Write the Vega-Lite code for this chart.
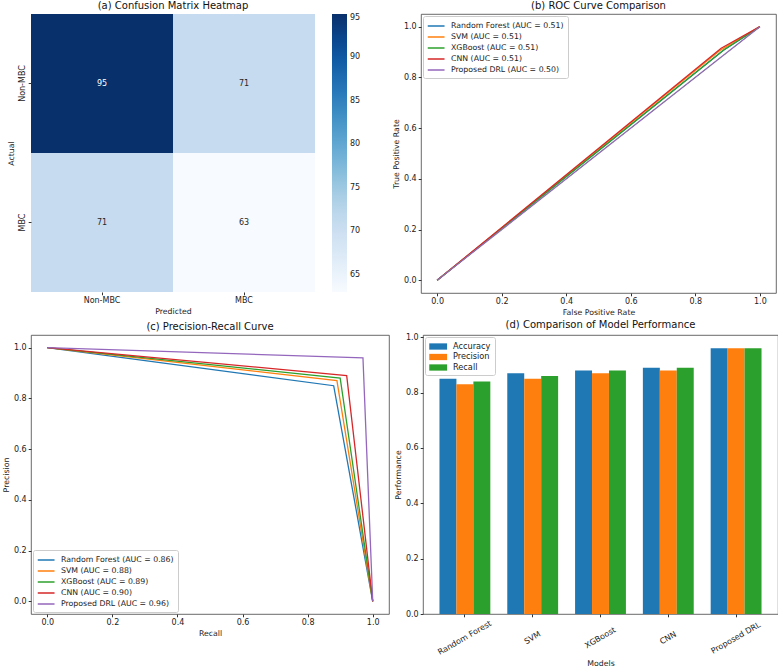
{
 "$schema": "https://vega.github.io/schema/vega-lite/v6.json",
 "padding": {"left": 2, "top": 0, "right": 0, "bottom": 0},
 "background": "white",
 "config": {
  "font": "DejaVu Sans",
  "view": {"stroke": "#444", "strokeWidth": 0.8},
  "title": {"fontSize": 10, "fontWeight": "normal", "font": "DejaVu Sans", "offset": 3, "frame": "group", "color": "#111"},
  "axis": {"labelFont": "DejaVu Sans", "labelFontSize": 8, "titleFont": "DejaVu Sans", "titleFontSize": 7.8, "titleFontWeight": "normal", "grid": false, "tickSize": 2.8, "tickColor": "#333", "labelColor": "#222", "titleColor": "#222", "domain": false, "labelPadding": 2, "titlePadding": 3},
  "legend": {"labelFont": "DejaVu Sans", "labelFontSize": 7.8, "labelColor": "#222", "gradientVerticalMaxLength": 400}
 },
 "datasets": {
  "heat": [
   {"actual": "Non-MBC", "predicted": "Non-MBC", "count": 95},
   {"actual": "Non-MBC", "predicted": "MBC", "count": 71},
   {"actual": "MBC", "predicted": "Non-MBC", "count": 71},
   {"actual": "MBC", "predicted": "MBC", "count": 63}
  ],
  "roc": [
   {"label": "Random Forest (AUC = 0.51)", "step": 0, "fpr": 0, "tpr": 0},
   {"label": "Random Forest (AUC = 0.51)", "step": 1, "fpr": 0.885, "tpr": 0.905},
   {"label": "Random Forest (AUC = 0.51)", "step": 2, "fpr": 1, "tpr": 1},
   {"label": "SVM (AUC = 0.51)", "step": 0, "fpr": 0, "tpr": 0},
   {"label": "SVM (AUC = 0.51)", "step": 1, "fpr": 0.875, "tpr": 0.905},
   {"label": "SVM (AUC = 0.51)", "step": 2, "fpr": 1, "tpr": 1},
   {"label": "XGBoost (AUC = 0.51)", "step": 0, "fpr": 0, "tpr": 0},
   {"label": "XGBoost (AUC = 0.51)", "step": 1, "fpr": 0.89, "tpr": 0.91},
   {"label": "XGBoost (AUC = 0.51)", "step": 2, "fpr": 1, "tpr": 1},
   {"label": "CNN (AUC = 0.51)", "step": 0, "fpr": 0, "tpr": 0},
   {"label": "CNN (AUC = 0.51)", "step": 1, "fpr": 0.88, "tpr": 0.915},
   {"label": "CNN (AUC = 0.51)", "step": 2, "fpr": 1, "tpr": 1},
   {"label": "Proposed DRL (AUC = 0.50)", "step": 0, "fpr": 0, "tpr": 0},
   {"label": "Proposed DRL (AUC = 0.50)", "step": 1, "fpr": 0.9, "tpr": 0.9},
   {"label": "Proposed DRL (AUC = 0.50)", "step": 2, "fpr": 1, "tpr": 1}
  ],
  "diag": [
   {"fpr": 0, "tpr": 0},
   {"fpr": 1, "tpr": 1}
  ],
  "pr": [
   {"label": "Random Forest (AUC = 0.86)", "step": 0, "recall": 0, "precision": 1},
   {"label": "Random Forest (AUC = 0.86)", "step": 1, "recall": 0.88, "precision": 0.85},
   {"label": "Random Forest (AUC = 0.86)", "step": 2, "recall": 1, "precision": 0},
   {"label": "SVM (AUC = 0.88)", "step": 0, "recall": 0, "precision": 1},
   {"label": "SVM (AUC = 0.88)", "step": 1, "recall": 0.89, "precision": 0.87},
   {"label": "SVM (AUC = 0.88)", "step": 2, "recall": 1, "precision": 0},
   {"label": "XGBoost (AUC = 0.89)", "step": 0, "recall": 0, "precision": 1},
   {"label": "XGBoost (AUC = 0.89)", "step": 1, "recall": 0.90, "precision": 0.88},
   {"label": "XGBoost (AUC = 0.89)", "step": 2, "recall": 1, "precision": 0},
   {"label": "CNN (AUC = 0.90)", "step": 0, "recall": 0, "precision": 1},
   {"label": "CNN (AUC = 0.90)", "step": 1, "recall": 0.92, "precision": 0.89},
   {"label": "CNN (AUC = 0.90)", "step": 2, "recall": 1, "precision": 0},
   {"label": "Proposed DRL (AUC = 0.96)", "step": 0, "recall": 0, "precision": 1},
   {"label": "Proposed DRL (AUC = 0.96)", "step": 1, "recall": 0.97, "precision": 0.96},
   {"label": "Proposed DRL (AUC = 0.96)", "step": 2, "recall": 1, "precision": 0}
  ],
  "bars": [
   {"model": "Random Forest", "metric": "Accuracy", "value": 0.85},
   {"model": "Random Forest", "metric": "Precision", "value": 0.83},
   {"model": "Random Forest", "metric": "Recall", "value": 0.84},
   {"model": "SVM", "metric": "Accuracy", "value": 0.87},
   {"model": "SVM", "metric": "Precision", "value": 0.85},
   {"model": "SVM", "metric": "Recall", "value": 0.86},
   {"model": "XGBoost", "metric": "Accuracy", "value": 0.88},
   {"model": "XGBoost", "metric": "Precision", "value": 0.87},
   {"model": "XGBoost", "metric": "Recall", "value": 0.88},
   {"model": "CNN", "metric": "Accuracy", "value": 0.89},
   {"model": "CNN", "metric": "Precision", "value": 0.88},
   {"model": "CNN", "metric": "Recall", "value": 0.89},
   {"model": "Proposed DRL", "metric": "Accuracy", "value": 0.96},
   {"model": "Proposed DRL", "metric": "Precision", "value": 0.96},
   {"model": "Proposed DRL", "metric": "Recall", "value": 0.96}
  ]
 },
 "resolve": {"scale": {"color": "independent", "x": "independent", "y": "independent"}, "legend": {"color": "independent"}},
 "spacing": 2,
 "vconcat": [
  {
   "spacing": 31,
   "resolve": {"scale": {"color": "independent", "x": "independent", "y": "independent"}, "legend": {"color": "independent"}},
   "hconcat": [
    {
     "width": 284, "height": 278,
     "title": {"text": "(a) Confusion Matrix Heatmap"},
     "view": {"stroke": null},
     "data": {"name": "heat"},
     "layer": [
      {
       "mark": {"type": "rect"},
       "encoding": {
        "x": {"field": "predicted", "type": "nominal", "sort": ["Non-MBC", "MBC"], "scale": {"paddingInner": 0, "paddingOuter": 0}, "axis": {"title": "Predicted", "labelAngle": 0}},
        "y": {"field": "actual", "type": "nominal", "sort": ["Non-MBC", "MBC"], "scale": {"paddingInner": 0, "paddingOuter": 0}, "axis": {"title": "Actual", "labelAngle": -90}},
        "color": {"field": "count", "type": "quantitative",
         "scale": {"domain": [63, 67, 71, 75, 79, 83, 87, 91, 95], "range": ["#f7fbff", "#deebf7", "#c6dbef", "#9ecae1", "#6baed6", "#4292c6", "#2171b5", "#08519c", "#08306b"]},
         "legend": {"title": null, "direction": "vertical", "orient": "right", "gradientLength": 278, "gradientThickness": 15, "offset": 17, "values": [65, 70, 75, 80, 85, 90, 95], "labelOverlap": false, "labelFontSize": 8, "gradientStrokeWidth": 0, "labelOffset": 3}}
       }
      },
      {
       "mark": {"type": "text", "fontSize": 8},
       "encoding": {
        "x": {"field": "predicted", "type": "nominal", "sort": ["Non-MBC", "MBC"]},
        "y": {"field": "actual", "type": "nominal", "sort": ["Non-MBC", "MBC"]},
        "text": {"field": "count", "type": "quantitative"},
        "color": {"condition": {"test": "datum.count > 80", "value": "white"}, "value": "#262626"}
       }
      }
     ]
    },
    {
     "width": 355, "height": 279,
     "title": {"text": "(b) ROC Curve Comparison"},
     "layer": [
      {
       "data": {"name": "roc"},
       "mark": {"type": "line", "strokeWidth": 1.3},
       "encoding": {
        "x": {"field": "fpr", "type": "quantitative", "scale": {"domain": [-0.05, 1.05], "nice": false, "zero": false}, "axis": {"title": "False Positive Rate", "values": [0, 0.2, 0.4, 0.6, 0.8, 1], "format": ".1f"}},
        "y": {"field": "tpr", "type": "quantitative", "scale": {"domain": [-0.05, 1.05], "nice": false, "zero": false}, "axis": {"title": "True Positive Rate", "values": [0, 0.2, 0.4, 0.6, 0.8, 1], "format": ".1f"}},
        "color": {"field": "label", "type": "nominal",
         "scale": {"domain": ["Random Forest (AUC = 0.51)", "SVM (AUC = 0.51)", "XGBoost (AUC = 0.51)", "CNN (AUC = 0.51)", "Proposed DRL (AUC = 0.50)"], "range": ["#1f77b4", "#ff7f0e", "#2ca02c", "#d62728", "#9467bd"]},
         "legend": {"title": null, "orient": "top-left", "offset": 2, "symbolType": "M-1,0L2.2,0", "symbolStrokeWidth": 1.5, "symbolSize": 110, "strokeColor": "#ccc", "fillColor": "white", "padding": 4, "cornerRadius": 2, "labelFontSize": 7.8, "rowPadding": 1, "labelOffset": 12}},
        "order": {"field": "step", "type": "quantitative"}
       }
      },
      {
       "data": {"name": "diag"},
       "mark": {"type": "line", "strokeDash": [4, 2.5], "color": "#808090", "strokeWidth": 1},
       "encoding": {
        "x": {"field": "fpr", "type": "quantitative"},
        "y": {"field": "tpr", "type": "quantitative"}
       }
      }
     ]
    }
   ]
  },
  {
   "spacing": 4,
   "resolve": {"scale": {"color": "independent", "x": "independent", "y": "independent"}, "legend": {"color": "independent"}},
   "hconcat": [
    {
     "width": 358, "height": 279,
     "title": {"text": "(c) Precision-Recall Curve"},
     "data": {"name": "pr"},
     "mark": {"type": "line", "strokeWidth": 1.3},
     "encoding": {
      "x": {"field": "recall", "type": "quantitative", "scale": {"domain": [-0.05, 1.05], "nice": false, "zero": false}, "axis": {"title": "Recall", "values": [0, 0.2, 0.4, 0.6, 0.8, 1], "format": ".1f"}},
      "y": {"field": "precision", "type": "quantitative", "scale": {"domain": [-0.05, 1.05], "nice": false, "zero": false}, "axis": {"title": "Precision", "values": [0, 0.2, 0.4, 0.6, 0.8, 1], "format": ".1f"}},
      "color": {"field": "label", "type": "nominal",
       "scale": {"domain": ["Random Forest (AUC = 0.86)", "SVM (AUC = 0.88)", "XGBoost (AUC = 0.89)", "CNN (AUC = 0.90)", "Proposed DRL (AUC = 0.96)"], "range": ["#1f77b4", "#ff7f0e", "#2ca02c", "#d62728", "#9467bd"]},
       "legend": {"title": null, "orient": "bottom-left", "offset": 2, "symbolType": "M-1,0L2.2,0", "symbolStrokeWidth": 1.5, "symbolSize": 110, "strokeColor": "#ccc", "fillColor": "white", "padding": 4, "cornerRadius": 2, "labelFontSize": 7.8, "rowPadding": 1, "labelOffset": 12}},
      "order": {"field": "step", "type": "quantitative"}
     }
    },
    {
     "width": 355, "height": 279,
     "title": {"text": "(d) Comparison of Model Performance"},
     "data": {"name": "bars"},
     "mark": {"type": "bar"},
     "encoding": {
      "x": {"field": "model", "type": "nominal", "sort": ["Random Forest", "SVM", "XGBoost", "CNN", "Proposed DRL"], "scale": {"paddingInner": 0.25, "paddingOuter": 0.243}, "axis": {"title": "Models", "labelAngle": -30, "labelAlign": "center", "labelBaseline": "middle", "labelPadding": 21, "labelOverlap": false, "labelBound": false, "titlePadding": 3}},
      "xOffset": {"field": "metric", "type": "nominal", "sort": ["Accuracy", "Precision", "Recall"], "scale": {"paddingInner": 0, "paddingOuter": 0}},
      "y": {"field": "value", "type": "quantitative", "scale": {"domain": [0, 1.008], "nice": false}, "axis": {"title": "Performance", "values": [0, 0.2, 0.4, 0.6, 0.8, 1], "format": ".1f"}},
      "color": {"field": "metric", "type": "nominal", "sort": ["Accuracy", "Precision", "Recall"],
       "scale": {"domain": ["Accuracy", "Precision", "Recall"], "range": ["#1f77b4", "#ff7f0e", "#2ca02c"]},
       "legend": {"title": null, "orient": "top-left", "offset": 2, "symbolType": "M-1,-0.6L2.4,-0.6L2.4,0.6L-1,0.6Z", "symbolSize": 110, "symbolStrokeWidth": 0, "strokeColor": "#ccc", "fillColor": "white", "padding": 4, "cornerRadius": 2, "labelFontSize": 8.2, "rowPadding": 1.5, "labelOffset": 13}}
     }
    }
   ]
  }
 ]
}
